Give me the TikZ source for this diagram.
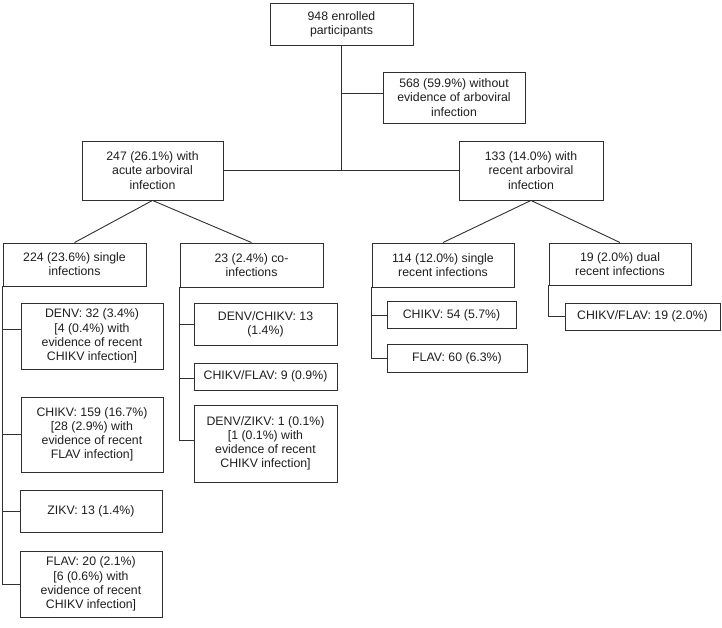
\documentclass[tikz,border=0pt]{standalone}
\usepackage{fontspec}
\setmainfont{Liberation Sans}
\definecolor{linecol}{HTML}{303030}
\definecolor{textcol}{HTML}{1E1E1E}
\begin{document}
\begin{tikzpicture}[x=1pt,y=-1pt,
  box/.style={draw=linecol, line width=0.9pt, align=center, inner sep=0pt,
    text=textcol, font=\fontsize{12.3}{14.2}\selectfont},
  conn/.style={draw=linecol, line width=0.9pt}]
\useasboundingbox (0,0) rectangle (722,628);
% level 0/1
\node[box, minimum width=143, minimum height=42] (top) at (341.5,24) {948 enrolled\\participants};
\node[box, minimum width=142, minimum height=51] (no) at (454,97.5) {568 (59.9\%) without\\evidence of arboviral\\infection};
\node[box, minimum width=141, minimum height=59] (acute) at (152.5,170.5) {247 (26.1\%) with\\acute arboviral\\infection};
\node[box, minimum width=144, minimum height=59] (recent) at (531,170.5) {133 (14.0\%) with\\recent arboviral\\infection};
% level 2
\node[box, minimum width=143, minimum height=43] (single) at (74.5,264.5) {224 (23.6\%) single\\infections};
\node[box, minimum width=143, minimum height=44] (co) at (251.5,265) {23 (2.4\%) co-\\infections};
\node[box, minimum width=142, minimum height=44] (srec) at (443,265) {114 (12.0\%) single\\recent infections};
\node[box, minimum width=142, minimum height=42] (dual) at (620,264) {19 (2.0\%) dual\\recent infections};
% single infections
\node[box, minimum width=142, minimum height=66] (denv) at (92,336) {DENV: 32 (3.4\%)\\{[}4 (0.4\%) with\\evidence of recent\\CHIKV infection{]}};
\node[box, minimum width=142, minimum height=75] (chikv) at (92,434.5) {CHIKV: 159 (16.7\%)\\{[}28 (2.9\%) with\\evidence of recent\\FLAV infection{]}};
\node[box, minimum width=142, minimum height=42] (zikv) at (91,511) {ZIKV: 13 (1.4\%)};
\node[box, minimum width=142, minimum height=66] (flav) at (91,584) {FLAV: 20 (2.1\%)\\{[}6 (0.6\%) with\\evidence of recent\\CHIKV infection{]}};
% co-infections
\node[box, minimum width=143, minimum height=42] (dc) at (265.5,324) {DENV/CHIKV: 13\\(1.4\%)};
\node[box, minimum width=143, minimum height=27] (cf9) at (265.5,376.5) {CHIKV/FLAV: 9 (0.9\%)};
\node[box, minimum width=143, minimum height=77] (dz) at (265.5,443.5) {DENV/ZIKV: 1 (0.1\%)\\{[}1 (0.1\%) with\\evidence of recent\\CHIKV infection{]}};
% single recent
\node[box, minimum width=129, minimum height=27] (c54) at (451.5,315) {CHIKV: 54 (5.7\%)};
\node[box, minimum width=140, minimum height=28] (f60) at (457,358) {FLAV: 60 (6.3\%)};
% dual recent
\node[box, minimum width=155, minimum height=27] (cf19) at (642.5,316.5) {CHIKV/FLAV: 19 (2.0\%)};
% connectors
\draw[conn] (top.south) -- (top.south |- acute.east);
\draw[conn] ([yshift=4.5pt]top.south |- no.west) -- ([yshift=4.5pt]no.west);
\draw[conn] (acute.east) -- (recent.west);
\draw[conn] (acute.south) -- (single.north);
\draw[conn] (acute.south) -- (co.north);
\draw[conn] (recent.south) -- (srec.north);
\draw[conn] (recent.south) -- (dual.north);
\draw[conn] (single.south west) |- (flav.west);
\draw[conn] (single.south west) |- ([yshift=7pt]denv.west);
\draw[conn] (single.south west) |- (chikv.west);
\draw[conn] (single.south west) |- (zikv.west);
\draw[conn] (co.south west) |- ([yshift=3.5pt]dz.west);
\draw[conn] (co.south west) |- (dc.west);
\draw[conn] (co.south west) |- ([yshift=-1.5pt]cf9.west);
\draw[conn] (srec.south west) |- (f60.west);
\draw[conn] (srec.south west) |- (c54.west);
\draw[conn] (dual.south west) |- (cf19.west);
\end{tikzpicture}
\end{document}
